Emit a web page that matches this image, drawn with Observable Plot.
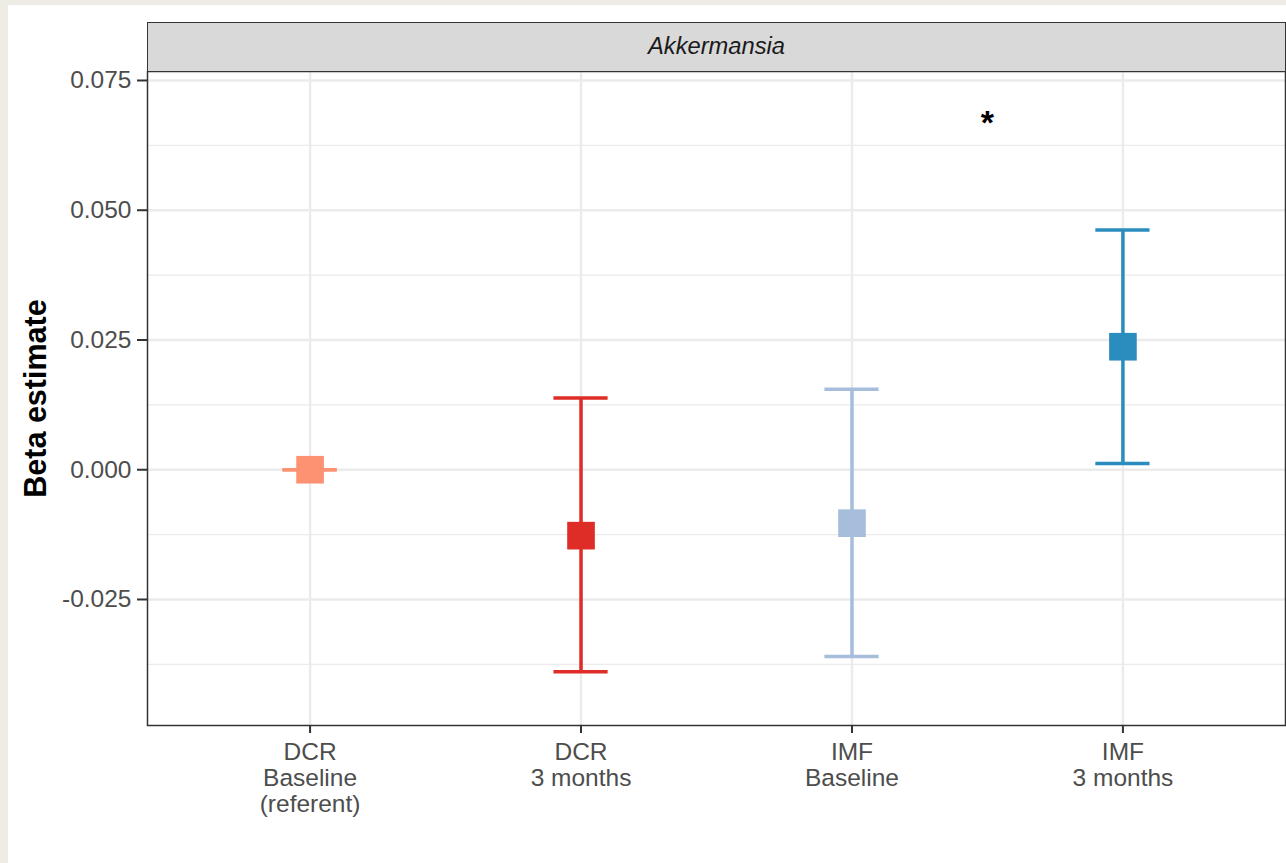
<!DOCTYPE html>
<html>
<head>
<meta charset="utf-8">
<script src="https://cdn.jsdelivr.net/npm/d3@7"></script>
<script src="https://cdn.jsdelivr.net/npm/@observablehq/plot@0.6"></script>
<style>
  html, body { margin: 0; padding: 0; }
  body { background: #efece5; }
  #wrap { position: relative; width: 1286px; height: 863px; background: #efece5; overflow: hidden; }
  #paper { position: absolute; left: 8px; top: 5px; right: 0; bottom: 0; background: #ffffff; }
  #strip { position: absolute; left: 147px; top: 22px; width: 1139px; height: 50px; box-sizing: border-box;
           background: #d9d9d9; border: 1.5px solid #333333; text-align: center; line-height: 46px;
           font-family: "Liberation Sans", Arial, sans-serif; font-style: italic; font-size: 23.7px; color: #1a1a1a; }
  #chart { position: absolute; left: 0; top: 0; }
</style>
</head>
<body>
<div id="wrap">
  <div id="paper"></div>
  <div id="chart"></div>
  <div id="strip">Akkermansia</div>
</div>
<script>
// ---- data ----
const groups = ["DCR\nBaseline\n(referent)", "DCR\n3 months", "IMF\nBaseline", "IMF\n3 months"];
const positions = [1, 2, 3, 4];
const estimate = [0, -0.0127, -0.0103, 0.0237];
const lower = [0, -0.0389, -0.0360, 0.0012];
const upper = [0, 0.0138, 0.0155, 0.0462];
const colors = ["#fc9272", "#de2d26", "#a6bddb", "#2b8cbe"];
const yTicks = [-0.025, 0, 0.025, 0.05, 0.075];
const yMinorTicks = [-0.0375, -0.0125, 0.0125, 0.0375, 0.0625];
const sigLabels = ["*"];
const sigX = [3.5];
const sigY = [0.0668];
const stripLabel = "Akkermansia";
const yTitle = "Beta estimate";

const data = groups.map((g, i) => ({group: g, pos: positions[i], est: estimate[i], lo: lower[i], hi: upper[i]}));
const sig = sigLabels.map((s, i) => ({label: s, x: sigX[i], y: sigY[i]}));
const capHalf = 0.1;

document.getElementById("strip").textContent = stripLabel;

const chart = Plot.plot({
  width: 1286,
  height: 863,
  marginLeft: 147,
  marginRight: 1,
  marginTop: 71,
  marginBottom: 138,
  style: {background: "transparent", fontFamily: "'Liberation Sans', Arial, sans-serif", fontSize: "24px"},
  x: {domain: [0.4, 4.6]},
  y: {domain: [-0.04928, 0.07673]},
  color: {domain: groups, range: colors},
  marks: [
    Plot.gridY(yMinorTicks, {stroke: "#ebebeb", strokeOpacity: 1, strokeWidth: 1.3}),
    Plot.gridY(yTicks, {stroke: "#ebebeb", strokeOpacity: 1, strokeWidth: 2.4}),
    Plot.gridX(positions, {stroke: "#ebebeb", strokeOpacity: 1, strokeWidth: 2.4}),
    Plot.ruleX(data, {x: "pos", y1: "lo", y2: "hi", stroke: "group", strokeWidth: 3.5}),
    Plot.ruleY(data, {y: "hi", x1: d => d.pos - capHalf, x2: d => d.pos + capHalf, stroke: "group", strokeWidth: 3.5}),
    Plot.ruleY(data, {y: "lo", x1: d => d.pos - capHalf, x2: d => d.pos + capHalf, stroke: "group", strokeWidth: 3.5}),
    Plot.dot(data, {x: "pos", y: "est", symbol: "square", r: 15.6, fill: "group", stroke: null}),
    Plot.text(sig, {x: "x", y: "y", text: "label", fontSize: 34, fontWeight: "bold", fill: "#000000"}),
    Plot.frame({stroke: "#333333", strokeWidth: 1.5}),
    Plot.axisY(yTicks, {tickFormat: d => d.toFixed(3), tickSize: 10, tickPadding: 6, fontSize: 24.5,
      fill: "#4d4d4d", stroke: "#333333", strokeWidth: 2, label: null}),
    Plot.axisX(positions, {tickFormat: d => groups[d - 1], tickSize: 8, tickPadding: 8, fontSize: 24.5,
      lineHeight: 1.06, fill: "#4d4d4d", stroke: "#333333", strokeWidth: 2, label: null}),
    Plot.text([yTitle], {frameAnchor: "left", dx: -111, rotate: -90, textAnchor: "middle", text: d => d,
      fontSize: 30.5, fontWeight: "bold", fill: "#000000"})
  ]
});
document.getElementById("chart").appendChild(chart);
</script>
</body>
</html>
